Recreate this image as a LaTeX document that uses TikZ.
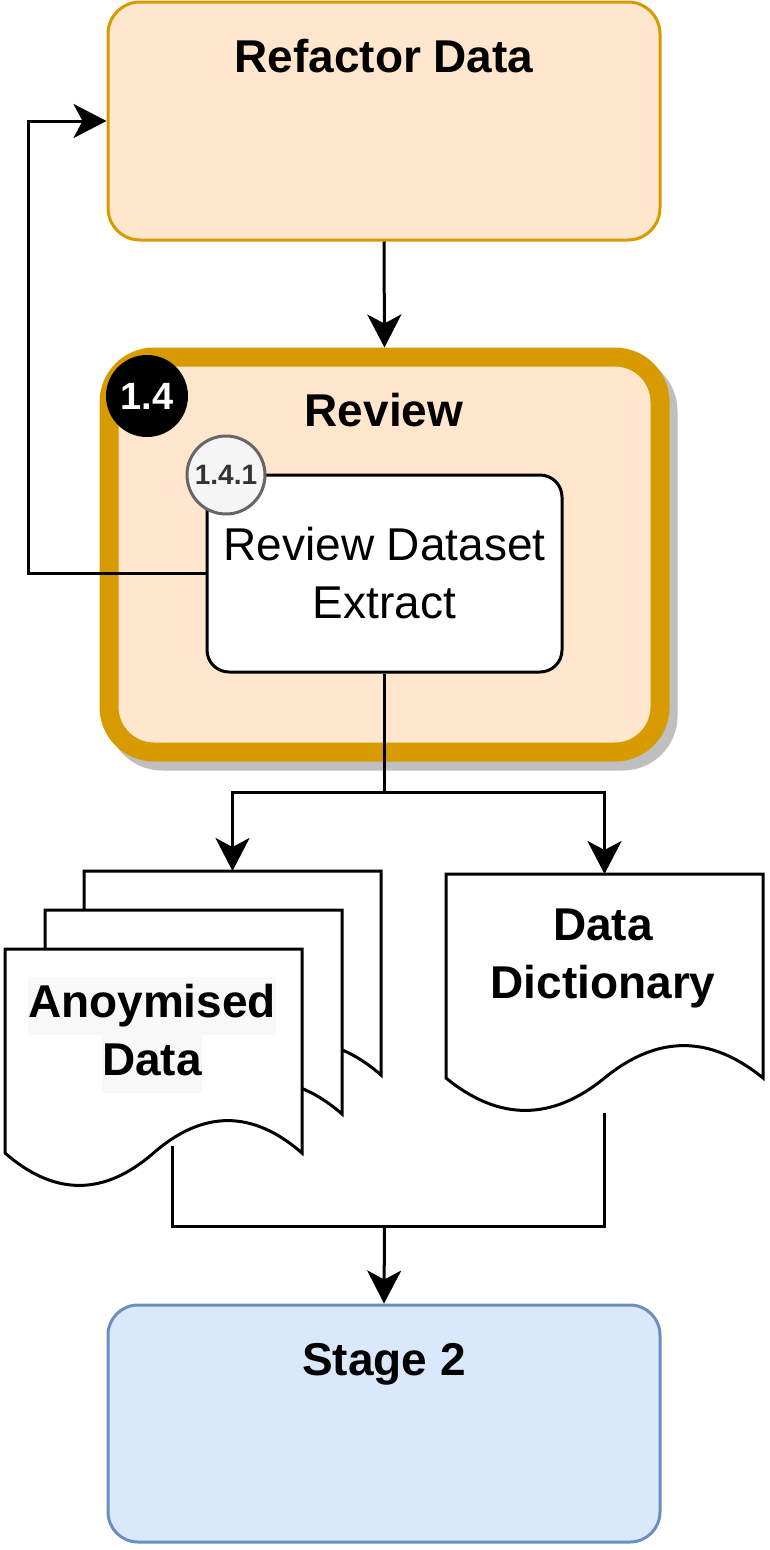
\documentclass[tikz,border=0pt]{standalone}
\usepackage{fontspec}
\setmainfont{Liberation Sans}
\usetikzlibrary{arrows.meta,shadows}
\definecolor{orangefill}{HTML}{FFE6CC}
\definecolor{orangeline}{HTML}{D79B00}
\definecolor{bluefill}{HTML}{DAE8FC}
\definecolor{blueline}{HTML}{6C8EBF}
\definecolor{shadowgray}{HTML}{BFBFBF}
\definecolor{badgefill}{HTML}{F5F5F5}
\definecolor{badgeline}{HTML}{666666}
\definecolor{badgetext}{HTML}{333333}
\definecolor{labelbg}{HTML}{F8F8F8}
\setlength{\fboxsep}{0pt}
% document shape: x, y (top left), width, height
\newcommand{\docshape}[4]{
  \filldraw[docline] (#1,#2) -- ({#1+#3},#2) -- ({#1+#3},{#2+0.85*#4})
    .. controls ({#1+5*#3/6},{#2+0.67*#4}) and ({#1+2*#3/3},{#2+0.67*#4}) .. ({#1+#3/2},{#2+0.85*#4})
    .. controls ({#1+#3/3},{#2+1.03*#4}) and ({#1+#3/6},{#2+1.03*#4}) .. (#1,{#2+0.85*#4}) -- cycle;
}
\begin{document}
\begin{tikzpicture}[x=1pt, y=-1pt,
  arr/.style={line width=3pt, -{Stealth[length=33pt,width=34pt,inset=9pt]}},
  wire/.style={line width=3pt},
  docline/.style={draw=black, fill=white, line width=3pt},
  orangebox/.style={draw=orangeline, fill=orangefill, line width=3pt, rounded corners=32pt, minimum width=552pt, minimum height=238pt},
  bluebox/.style={draw=blueline, fill=bluefill, line width=3pt, rounded corners=30pt, minimum width=552pt, minimum height=237pt},
  reviewbox/.style={draw=orangeline, fill=orangefill, line width=19pt, rounded corners=45pt, minimum width=551pt, minimum height=395pt,
    drop shadow={shadow xshift=8pt, shadow yshift=-9pt, fill=shadowgray, draw=shadowgray, line width=19pt, opacity=1}},
  procbox/.style={draw=black, fill=white, line width=3pt, rounded corners=22pt, minimum width=355pt, minimum height=197pt,
    align=center, font=\fontsize{46}{58}\selectfont},
  title/.style={font=\fontsize{46}{56}\selectfont\bfseries, anchor=base},
  doctext/.style={align=center, font=\fontsize{46}{58}\selectfont\bfseries},
  badge/.style={circle, fill=black, text=white, minimum size=82pt, inner sep=0pt, font=\fontsize{38}{38}\selectfont\bfseries},
  subbadge/.style={circle, fill=badgefill, draw=badgeline, line width=3pt, text=badgetext, minimum size=78pt, inner sep=0pt, font=\fontsize{28}{28}\selectfont\bfseries}]
\useasboundingbox (0,0) rectangle (770,1550);

% refactor step
\node[orangebox] (refactor) at (384,121) {};
\node[title] (refactortitle) at (384,72) {Refactor Data};

% review step
\node[reviewbox] (review) at (384.5,554.5) {};
\node[title] (reviewtitle) at (384,426) {Review};
\node[badge] (b14) at (147,396) {1.4};
\node[procbox] (extract) at (384.5,573.5) {Review Dataset\\Extract};
\node[subbadge] (b141) at (226,475) {1.4.1};

% outputs
\docshape{84}{871}{297}{240}
\docshape{45}{910}{297}{240}
\docshape{5}{949}{297}{240}
\docshape{446}{874}{317}{240}
\node[doctext] (anontext) at (152,1035) {\colorbox{labelbg}{\strut Anoymised}\\\colorbox{labelbg}{\strut Data}};
\node[doctext] (dicttext) at (603,958) {Data\\Dictionary};
\coordinate (anontop) at (232.5,871);
\coordinate (dicttop) at (604.5,874);
\coordinate (anonbot) at (172,1146);
\coordinate (dictbot) at (604.5,1113);

% stage 2
\node[bluebox] (stage) at (384,1423.5) {};
\node[title] (stagetitle) at (384,1375) {Stage 2};

% connectors
\coordinate (split) at (384.5,792);
\coordinate (merge) at (384.5,1226);
\draw[arr] (refactor.south) -- (review.north);
\draw[arr] (extract.west) -- ++(-177,0) |- (refactor.west);
\draw[wire] (extract.south) -- (split);
\draw[arr] (split) -| (anontop);
\draw[arr] (split) -| (dicttop);
\draw[wire] (anonbot) |- (merge);
\draw[wire] (dictbot) |- (merge);
\draw[arr] (merge) -- (stage.north);
\end{tikzpicture}
\end{document}
